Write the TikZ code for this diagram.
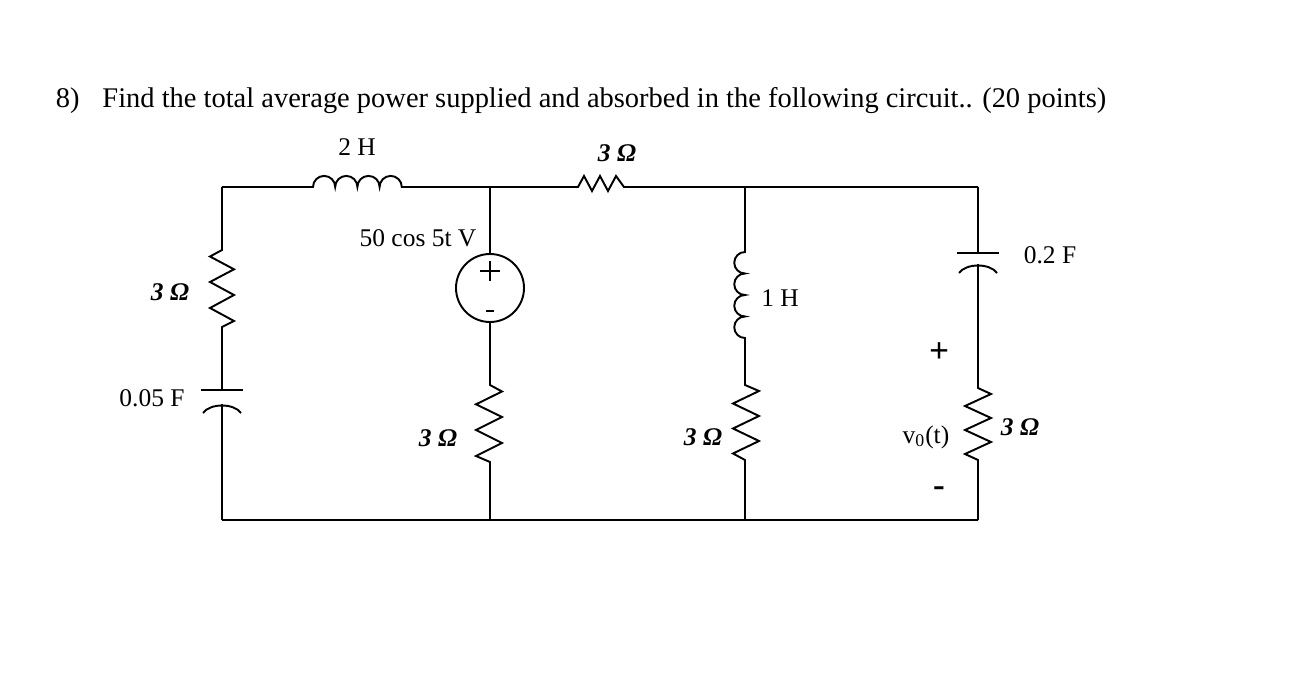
\documentclass[tikz,border=0pt]{standalone}
\usepackage{fontspec}
\setmainfont{Liberation Serif}
\begin{document}
\begin{tikzpicture}[x=0.02cm,y=-0.02cm,line width=1.1pt,
  lbl/.style={font=\fontsize{14.5}{16}\selectfont,inner sep=0pt},
  om/.style={font=\fontsize{14.5}{16}\selectfont\bfseries\itshape}]
\useasboundingbox (0,0) rectangle (1301,699);
\node[anchor=west,font=\fontsize{16.2}{20}\selectfont,inner sep=0pt] (title) at (55,101) {8)\hspace{0.8em}Find the total average power supplied and absorbed in the following circuit.. (20 points)};
% corner coordinates
\coordinate (tl) at (222,187); \coordinate (bl) at (222,520);
\coordinate (tm) at (490,187); \coordinate (bm) at (490,520);
\coordinate (tr1) at (745,187); \coordinate (br1) at (745,520);
\coordinate (tr) at (978,187); \coordinate (br) at (978,520);
% bottom wire
\draw (bl) -- (br);
% left branch
\draw (tl) -- (222,250) -- (210,256.5) -- (234,269.3) -- (210,282) -- (234,295) -- (210,308) -- (234,321) -- (222,327) -- (222,390);
\draw (201,390) -- (243,390);
\draw (203,413) .. controls (210,403) and (234,403) .. (241,413);
\draw (222,403.5) -- (bl);
% top wire with 2H inductor
\draw (tl) -- (313,187) arc(180:360:11.1) arc(180:360:11.1) arc(180:360:11.1) arc(180:360:11.1) -- (tm);
% top resistor
\draw (tm) -- (578,187) -- (584,176) -- (592,191) -- (600,176) -- (608,191) -- (616,176) -- (624,187) -- (tr1) -- (tr);
% middle branch with source
\node[draw,circle,minimum size=68*0.02cm,inner sep=0pt] (src) at (490,288) {};
\draw (tm) -- (src.north);
\draw[line width=1.6pt] (490,261) -- (490,281) (480,271) -- (500,271);
\draw[line width=1.6pt] (486,311) -- (494,311);
\draw (src.south) -- (490,385) -- (502,391.5) -- (476,404.3) -- (502,417) -- (476,430) -- (502,443) -- (476,456) -- (490,462) -- (bm);
% 1H branch
\draw (tr1) -- (745,252) arc(270:90:10.75) arc(270:90:10.75) arc(270:90:10.75) arc(270:90:10.75) -- (745,385) -- (759,391) -- (733,403.5) -- (759,416) -- (733,428.5) -- (759,441) -- (733,453.5) -- (745,460) -- (br1);
% right branch
\draw (tr) -- (978,253);
\draw (957,253) -- (999,253);
\draw (959,273) .. controls (966,263) and (990,263) .. (997,273);
\draw (978,264) -- (978,388) -- (991,394) -- (965,406) -- (991,418) -- (965,430) -- (991,442) -- (965,454) -- (978,460) -- (br);
% labels
\node[lbl] (l2h) at (357,147) {2 H};
\node[om] (l3t) at (617,153) {3 Ω};
\node[lbl] (lsrc) at (418,238) {50 cos 5t V};
\node[om] (l3l) at (170,292) {3 Ω};
\node[lbl] (lcap) at (152,398) {0.05 F};
\node[om] (l3m) at (438,438) {3 Ω};
\node[lbl] (l1h) at (780,298) {1 H};
\node[om] (l3r1) at (703,437) {3 Ω};
\node[lbl] (l02) at (1050,255) {0.2 F};
\node[font=\fontsize{20}{20}\selectfont\bfseries] (vp) at (939,353) {+};
\node[lbl] (vo) at (926,437) {v\textsubscript{0}(t)};
\node[font=\fontsize{20}{20}\selectfont\bfseries] (vm) at (939,492) {-};
\node[om] (l3r) at (1020,427) {3 Ω};
\end{tikzpicture}
\end{document}
